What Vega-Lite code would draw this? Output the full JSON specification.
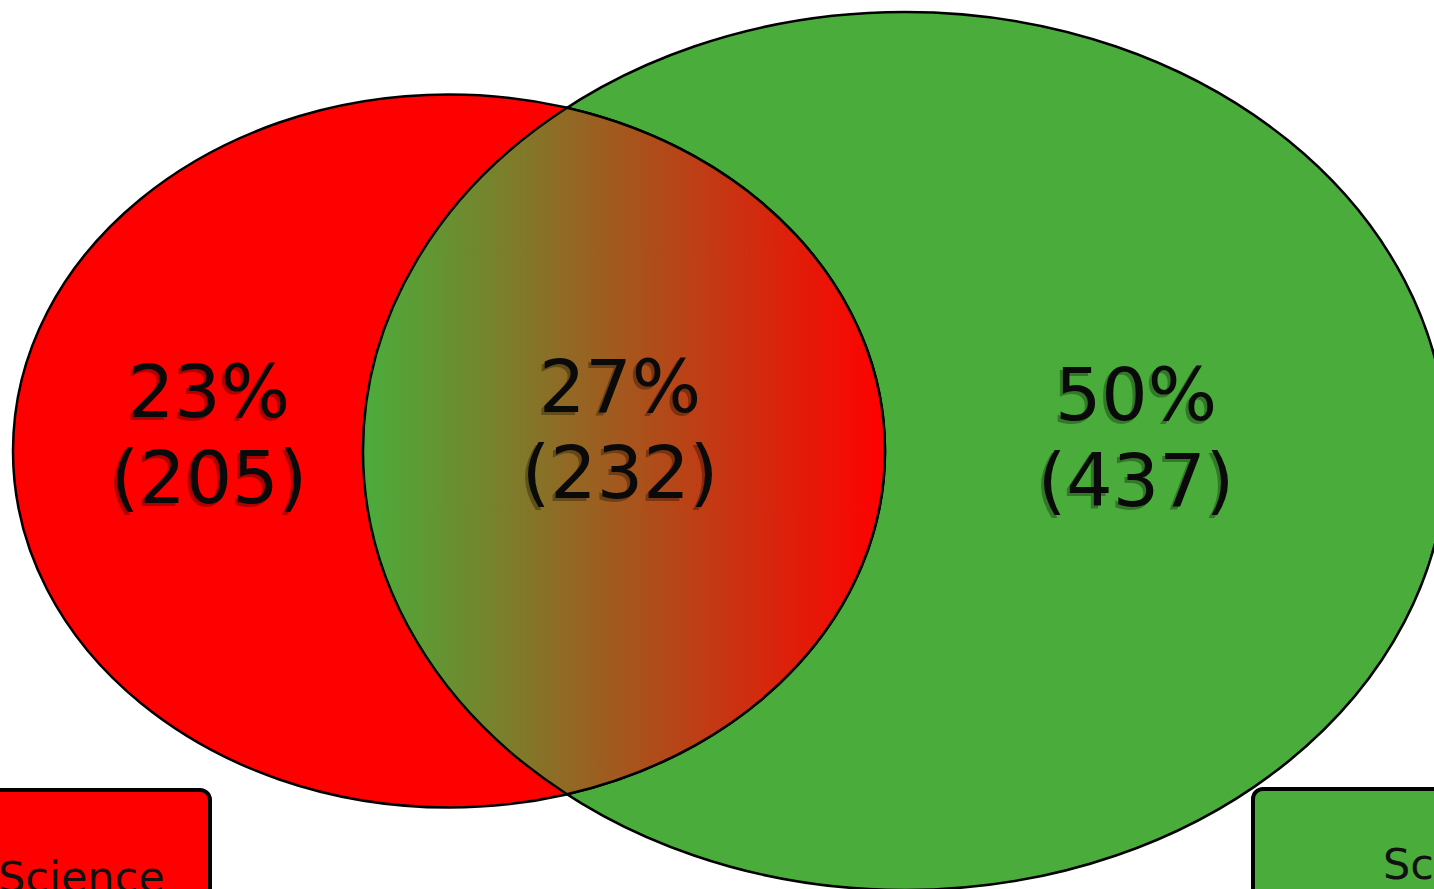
{
  "$schema": "https://vega.github.io/schema/vega-lite/v6.json",
  "width": 1434,
  "height": 889,
  "autosize": "none",
  "padding": 0,
  "background": "white",
  "config": {"view": {"stroke": null}},
  "datasets": {
    "sets": [
      {"set": "Science (left)", "side": "left", "x": 449, "y": 451},
      {"set": "Science (right)", "side": "right", "x": 905, "y": 451}
    ],
    "overlap": [
      {"region": "Both", "x": 567, "y": 451}
    ],
    "regions": [
      {"region": "Left only", "pct": "23%", "count": "(205)", "x": 209, "y": 417},
      {"region": "Both", "pct": "27%", "count": "(232)", "x": 620, "y": 412},
      {"region": "Right only", "pct": "50%", "count": "(437)", "x": 1136, "y": 420}
    ],
    "legend": [
      {"side": "left", "label": "Science", "x": -150, "x2": 210, "y": 790, "y2": 990, "tx": -2, "ty": 892},
      {"side": "right", "label": "Science", "x": 1253, "x2": 1650, "y": 789, "y2": 990, "tx": 1383, "ty": 879}
    ]
  },
  "encoding": {
    "x": {"field": "x", "type": "quantitative", "scale": {"domain": [0, 1434], "nice": false, "zero": false}, "axis": null},
    "y": {"field": "y", "type": "quantitative", "scale": {"domain": [0, 889], "reverse": true, "nice": false, "zero": false}, "axis": null}
  },
  "layer": [
    {
      "data": {"name": "sets"},
      "transform": [{"filter": "datum.side == 'right'"}],
      "mark": {"type": "point", "shape": "M -542 0 A 542 439 0 1 0 542 0 A 542 439 0 1 0 -542 0 Z", "size": 4, "filled": true, "fill": "#4aad3b", "stroke": "#000000", "strokeWidth": 2.5, "opacity": 1, "fillOpacity": 1, "clip": true}
    },
    {
      "data": {"name": "sets"},
      "transform": [{"filter": "datum.side == 'left'"}],
      "mark": {"type": "point", "shape": "M -436 0 A 436 356.5 0 1 0 436 0 A 436 356.5 0 1 0 -436 0 Z", "size": 4, "filled": true, "fill": "#ff0000", "stroke": "#000000", "strokeWidth": 2.5, "opacity": 1, "fillOpacity": 1, "clip": true}
    },
    {
      "data": {"name": "overlap"},
      "mark": {
        "type": "point",
        "shape": "M 0 -343.2 A 542 439 0 0 0 0 343.2 A 436 356.5 0 0 0 0 -343.2 Z",
        "size": 4,
        "filled": true,
        "fill": {"gradient": "linear", "x1": 0, "y1": 0, "x2": 1, "y2": 0, "stops": [{"offset": 0, "color": "#4aad3b"}, {"offset": 1, "color": "#ff0000"}]},
        "stroke": "#000000",
        "strokeWidth": 2.5,
        "opacity": 1,
        "fillOpacity": 1,
        "clip": true
      }
    },
    {
      "data": {"name": "legend"},
      "transform": [{"filter": "datum.side == 'left'"}],
      "mark": {"type": "rect", "fill": "#ff0000", "stroke": "#000000", "strokeWidth": 4, "cornerRadius": 10, "clip": true},
      "encoding": {"x2": {"field": "x2"}, "y2": {"field": "y2"}}
    },
    {
      "data": {"name": "legend"},
      "transform": [{"filter": "datum.side == 'right'"}],
      "mark": {"type": "rect", "fill": "#4aad3b", "stroke": "#000000", "strokeWidth": 4, "cornerRadius": 10, "clip": true},
      "encoding": {"x2": {"field": "x2"}, "y2": {"field": "y2"}}
    },
    {
      "data": {"name": "legend"},
      "mark": {"type": "text", "align": "left", "baseline": "alphabetic", "font": "DejaVu Sans", "fontSize": 43, "fill": "#111111", "clip": true},
      "encoding": {
        "x": {"field": "tx", "type": "quantitative"},
        "y": {"field": "ty", "type": "quantitative"},
        "text": {"field": "label"}
      }
    },
    {
      "data": {"name": "regions"},
      "mark": {"type": "text", "align": "center", "baseline": "alphabetic", "font": "DejaVu Sans", "fontSize": 73, "fill": "#000000", "opacity": 0.3, "dx": -3, "dy": 3},
      "encoding": {"text": {"field": "pct"}}
    },
    {
      "data": {"name": "regions"},
      "mark": {"type": "text", "align": "center", "baseline": "alphabetic", "font": "DejaVu Sans", "fontSize": 73, "fill": "#000000", "opacity": 0.3, "dx": -3, "dy": 89},
      "encoding": {"text": {"field": "count"}}
    },
    {
      "data": {"name": "regions"},
      "mark": {"type": "text", "align": "center", "baseline": "alphabetic", "font": "DejaVu Sans", "fontSize": 73, "fill": "#0a0a0a"},
      "encoding": {"text": {"field": "pct"}}
    },
    {
      "data": {"name": "regions"},
      "mark": {"type": "text", "align": "center", "baseline": "alphabetic", "font": "DejaVu Sans", "fontSize": 73, "fill": "#0a0a0a", "dy": 86},
      "encoding": {"text": {"field": "count"}}
    }
  ]
}
